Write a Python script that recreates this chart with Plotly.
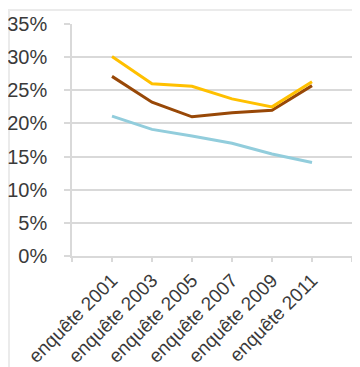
import plotly.graph_objects as go

categories = ["enquête 2001", "enquête 2003", "enquête 2005", "enquête 2007", "enquête 2009", "enquête 2011"]
serie_jaune = [30.1, 26.0, 25.6, 23.7, 22.5, 26.3]
serie_brune = [27.1, 23.2, 21.0, 21.6, 22.0, 25.7]
serie_bleue = [21.1, 19.1, 18.1, 17.0, 15.4, 14.1]
y_ticks = [0, 5, 10, 15, 20, 25, 30, 35]

idx = list(range(len(categories)))
fig = go.Figure()
for vals, col in [(serie_bleue, "#92CDDC"), (serie_brune, "#984807"), (serie_jaune, "#FFC000")]:
    fig.add_trace(go.Scatter(x=idx, y=vals, mode="lines",
                             line=dict(color=col, width=3), showlegend=False))

tickvals = [-1] + idx + [len(categories)]
ticktext = [""] + categories + [""]

# page body has an 8px margin: figure is 352x359 so it fills the 360x367 window
fig.update_layout(
    width=352, height=359,
    margin=dict(l=64, r=8, t=16, b=111),
    paper_bgcolor="white", plot_bgcolor="white",
    font=dict(family="Liberation Sans, Arial, sans-serif", size=20, color="#3A3A3A"),
    xaxis=dict(range=[-1, len(categories)], tickvals=tickvals, ticktext=ticktext,
               tickangle=-45, showgrid=False, zeroline=False, automargin=False,
               showline=True, linecolor="#D9D9D9", linewidth=1.5,
               ticks="outside", ticklen=4, tickcolor="#D9D9D9", tickwidth=1.5,
               tickfont=dict(size=19)),
    yaxis=dict(range=[0, 35], tickvals=y_ticks, ticktext=[f"{v}%" for v in y_ticks],
               showgrid=True, gridcolor="#D9D9D9", gridwidth=1.5, zeroline=False,
               automargin=False,
               showline=True, linecolor="#D9D9D9", linewidth=1.5,
               ticks="outside", ticklen=6, tickcolor="#D9D9D9", tickwidth=1.5,
               ticklabelstandoff=13),
    shapes=[dict(type="rect", xref="paper", yref="paper",
                 x0=-63/280, x1=(280 + 20) / 280, y0=-130/232, y1=(232 + 14) / 232,
                 line=dict(color="#EBEBEB", width=2), fillcolor="rgba(0,0,0,0)",
                 layer="below")],
)
fig.write_html("out.html")
